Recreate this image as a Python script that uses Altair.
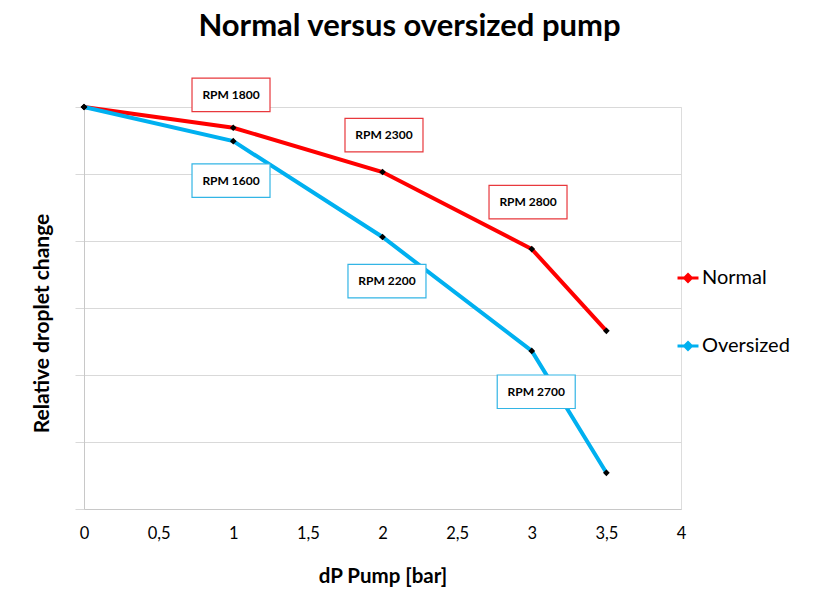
import altair as alt
import pandas as pd

# ---- data ----
pressure = [0, 1, 2, 3, 3.5]
normal = [6.0, 5.69, 5.03, 3.88, 2.66]
oversized = [6.0, 5.49, 4.06, 2.36, 0.54]

labels = ["RPM 1800", "RPM 2300", "RPM 2800", "RPM 1600", "RPM 2200", "RPM 2700"]
label_x = [0.985, 2.01, 2.975, 0.985, 2.03, 3.03]
label_y = [6.18, 5.58, 4.58, 4.9, 3.4, 1.75]
label_series = ["Normal", "Normal", "Normal", "Oversized", "Oversized", "Oversized"]

x_ticks = [0, 0.5, 1, 1.5, 2, 2.5, 3, 3.5, 4]
series_names = ["Normal", "Oversized"]
series_colors = ["#ff0000", "#00b0f0"]
box_colors = ["#e8383d", "#33b5e5"]

FONT = "Lato"

df = pd.DataFrame({
    "x": pressure * 2,
    "y": normal + oversized,
    "series": ["Normal"] * len(pressure) + ["Oversized"] * len(pressure),
})
ann = pd.DataFrame({"x": label_x, "y": label_y, "label": labels, "series": label_series})

xscale = alt.Scale(domain=[0, 4], nice=False, zero=True)
yscale = alt.Scale(domain=[0, 6], nice=False)

x_axis = alt.Axis(
    values=x_ticks, grid=False, ticks=False, labelFontSize=16.5, labelColor="black",
    labelPadding=16, labelFont=FONT, labelFlush=False,
    labelExpr="replace(format(datum.value, ''), '.', ',')",
    domainColor="#c8c8c8", domainWidth=1, title="dP Pump [bar]", titleFontSize=20.5,
    titleFont=FONT, titleFontWeight="bold", titleColor="black", titlePadding=25,
)
y_axis = alt.Axis(
    values=[0, 1, 2, 3, 4, 5, 6], labels=False, ticks=True, tickSize=9, tickColor="#d9d9d9",
    grid=True, gridColor="#d9d9d9", gridWidth=1, domainColor="#c8c8c8",
    title="Relative droplet change", titleFontSize=21, titleFont=FONT,
    titleFontWeight="bold", titleColor="black", titlePadding=22, titleY=216,
)

color = alt.Color(
    "series:N",
    scale=alt.Scale(domain=series_names, range=series_colors),
    legend=alt.Legend(
        title=None, orient="none", legendX=592, legendY=159, labelFontSize=20,
        labelFont=FONT, labelColor="black", rowPadding=46, labelOffset=2,
        symbolType="M-1,0L1,0M0,-0.32L0.32,0L0,0.32L-0.32,0Z", symbolSize=440,
        symbolStrokeWidth=3, symbolFillColor="black",
    ),
)

lines = alt.Chart(df).mark_line(strokeWidth=4).encode(
    x=alt.X("x:Q", scale=xscale, axis=x_axis),
    y=alt.Y("y:Q", scale=yscale, axis=y_axis),
    color=color,
)

points = alt.Chart(df).mark_point(shape="diamond", filled=True, color="black", size=45, opacity=1).encode(
    x="x:Q", y="y:Q",
)

boxes = alt.Chart(ann).mark_point(
    shape="M-1,-0.43L1,-0.43L1,0.43L-1,0.43Z", size=6084, filled=False, fill="white",
    fillOpacity=1, strokeWidth=1.2, opacity=1,
).encode(
    x="x:Q", y="y:Q",
    stroke=alt.Stroke("series:N", scale=alt.Scale(domain=series_names, range=box_colors), legend=None),
)

texts = alt.Chart(ann).mark_text(font=FONT, fontSize=12, fontWeight="bold", color="black").encode(
    x="x:Q", y="y:Q", text="label:N",
)

chart = alt.layer(lines, points, boxes, texts).properties(
    width=597, height=402,
    title=alt.TitleParams("Normal versus oversized pump", font=FONT, fontSize=31,
                          fontWeight="bold", color="black", anchor="middle", dx=27, offset=33),
    autosize=alt.AutoSizeParams(type="none"),
    padding={"left": 76, "top": 99, "right": 120, "bottom": 80},
).configure_view(stroke=None).configure(background="white")

chart.save("out.html", embed_options={"renderer": "svg", "actions": False})
